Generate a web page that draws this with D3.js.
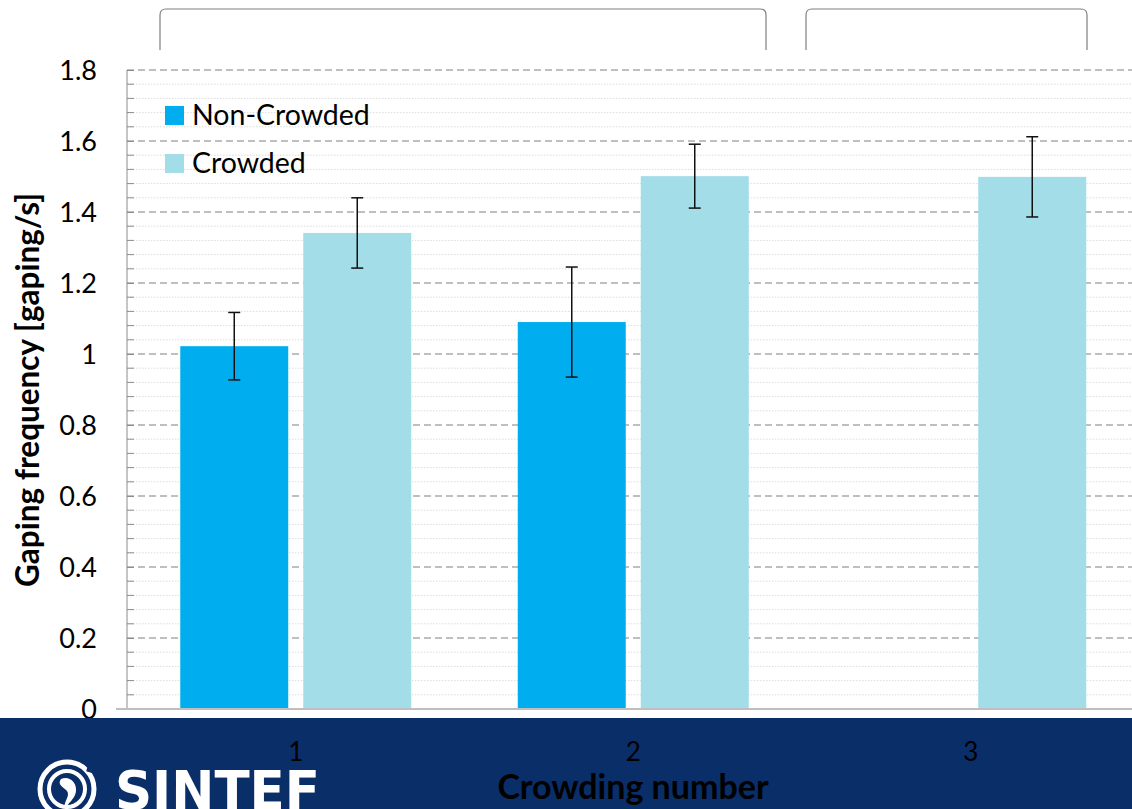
<!DOCTYPE html>
<html><head><meta charset="utf-8">
<script src="https://cdn.jsdelivr.net/npm/d3@7"></script>
<style>
html,body{margin:0;padding:0;background:#fff;}
svg{display:block;font-family:Lato,"Open Sans",sans-serif;}
</style></head>
<body>
<svg id="chart" width="1132" height="809"></svg>
<script>
// ---- data ----
const categories = ["1", "2", "3"];
const seriesNames = ["Non-Crowded", "Crowded"];
const nonCrowded = [1.022, 1.09, null];
const nonCrowdedErr = [0.095, 0.155, null];
const crowded = [1.341, 1.501, 1.499];
const crowdedErr = [0.099, 0.09, 0.113];
const yTicks = [0, 0.2, 0.4, 0.6, 0.8, 1, 1.2, 1.4, 1.6, 1.8];
const yTitle = "Gaping frequency [gaping/s]";
const xTitle = "Crowding number";
const colors = ["#00aeef", "#a2dde8"];

const svg = d3.select("#chart");
const W = 1132, H = 809;

const y = d3.scaleLinear().domain([0, 1.8]).range([709, 70]);
const x0 = d3.scaleBand().domain(categories).range([127, 1139.5]).padding(0);
const x1 = d3.scaleBand().domain(seriesNames).range([0, x0.bandwidth()])
  .paddingInner(0.122).paddingOuter(0.433);

// minor grid
const minor = d3.range(0, 1.8001, 0.04).filter(v => Math.abs(v / 0.2 - Math.round(v / 0.2)) > 1e-6);
svg.append("g").selectAll("line").data(minor).join("line")
  .attr("x1", 127).attr("x2", W).attr("y1", d => y(d)).attr("y2", d => y(d))
  .attr("stroke", "#dcdcdc").attr("stroke-width", 1).attr("stroke-dasharray", "1.5,1.5");
// minor ticks
svg.append("g").selectAll("line").data(minor).join("line")
  .attr("x1", 127).attr("x2", 134).attr("y1", d => y(d)).attr("y2", d => y(d))
  .attr("stroke", "#8c8c8c").attr("stroke-width", 1);
// major grid
svg.append("g").selectAll("line").data(yTicks.filter(d => d > 0)).join("line")
  .attr("x1", 127).attr("x2", W).attr("y1", d => y(d)).attr("y2", d => y(d))
  .attr("stroke", "#bfbfbf").attr("stroke-width", 2).attr("stroke-dasharray", "7,4");

// y axis via d3
const yAxis = d3.axisLeft(y).tickValues(yTicks).tickSize(11).tickPadding(19)
  .tickFormat(d => d3.format("~g")(d));
const ya = svg.append("g").attr("transform", "translate(127,0)").call(yAxis);
ya.select(".domain").attr("stroke", "#8c8c8c").attr("d", `M0,${y(1.8)}V${y(0)}`);
ya.selectAll(".tick line").attr("stroke", "#8c8c8c").attr("x2", 7);
ya.selectAll(".tick text").attr("font-size", 27).attr("fill", "#000")
  .attr("font-family", "Lato, sans-serif").attr("dy", "0.34em");

// bars
const rows = categories.map((c, i) => ({
  cat: c,
  vals: [
    {s: seriesNames[0], v: nonCrowded[i], e: nonCrowdedErr[i]},
    {s: seriesNames[1], v: crowded[i], e: crowdedErr[i]}
  ]
}));
const g = svg.append("g").selectAll("g").data(rows).join("g")
  .attr("transform", d => `translate(${x0(d.cat)},0)`);
g.selectAll("rect").data(d => d.vals.filter(v => v.v != null)).join("rect")
  .attr("x", d => x1(d.s)).attr("width", x1.bandwidth())
  .attr("y", d => y(d.v)).attr("height", d => y(0) - y(d.v))
  .attr("fill", d => colors[seriesNames.indexOf(d.s)]);

// x axis line
svg.append("line").attr("x1", 116).attr("x2", W).attr("y1", y(0)).attr("y2", y(0))
  .attr("stroke", "#bfbfbf").attr("stroke-width", 2);

// error bars
const eb = g.selectAll("g.err").data(d => d.vals.filter(v => v.v != null && v.e != null)).join("g").attr("class", "err");
eb.append("line")
  .attr("x1", d => x1(d.s) + x1.bandwidth() / 2).attr("x2", d => x1(d.s) + x1.bandwidth() / 2)
  .attr("y1", d => y(d.v + d.e)).attr("y2", d => y(d.v - d.e))
  .attr("stroke", "#111").attr("stroke-width", 1.5);
[1, -1].forEach(sg => {
  eb.append("line")
    .attr("x1", d => x1(d.s) + x1.bandwidth() / 2 - 6).attr("x2", d => x1(d.s) + x1.bandwidth() / 2 + 6)
    .attr("y1", d => y(d.v + sg * d.e)).attr("y2", d => y(d.v + sg * d.e))
    .attr("stroke", "#111").attr("stroke-width", 1.5);
});

// legend
const lg = svg.append("g").selectAll("g").data(seriesNames).join("g")
  .attr("transform", (d, i) => `translate(165,${106 + i * 48})`);
lg.append("rect").attr("width", 19).attr("height", 19).attr("fill", (d, i) => colors[i]);
lg.append("text").attr("x", 27).attr("y", 19).attr("font-size", 28.5).attr("fill", "#000").text(d => d);

// y title
svg.append("text").attr("transform", "translate(39,390) rotate(-90)")
  .attr("text-anchor", "middle").attr("font-size", 31.5).attr("font-weight", "bold").attr("fill", "#000")
  .text(yTitle);

// braces
function brace(xa, xb) {
  const t = 9, b = 50, r = 6;
  return `M${xa},${b}V${t + r}Q${xa},${t} ${xa + r},${t}H${xb - r}Q${xb},${t} ${xb},${t + r}V${b}`;
}
svg.append("path").attr("d", brace(160, 766)).attr("fill", "none").attr("stroke", "#7f7f7f").attr("stroke-width", 1.2);
svg.append("path").attr("d", brace(806, 1087)).attr("fill", "none").attr("stroke", "#7f7f7f").attr("stroke-width", 1.2);

// footer band
svg.append("rect").attr("x", 0).attr("y", 718).attr("width", W).attr("height", H - 718).attr("fill", "#0a2e68");

// x tick labels
svg.append("g").selectAll("text").data(categories).join("text")
  .attr("x", d => x0(d) + x0.bandwidth() / 2).attr("y", 761)
  .attr("text-anchor", "middle").attr("font-size", 26).attr("fill", "#000").text(d => d);
// x title
svg.append("text").attr("x", 633).attr("y", 799).attr("text-anchor", "middle")
  .attr("font-size", 34).attr("font-weight", "bold").attr("fill", "#000").text(xTitle);

// SINTEF logo
const logo = svg.append("g").attr("transform", "translate(67,789)");
logo.append("circle").attr("r", 27).attr("fill", "none").attr("stroke", "#fff").attr("stroke-width", 5);
logo.append("circle").attr("r", 18).attr("fill", "none").attr("stroke", "#fff").attr("stroke-width", 4);
logo.append("path").attr("d", "M-6,-10 C4,-14 12,-4 8,6 C5,13 -2,16 -1,22 C-6,14 4,8 0,2 C-4,-2 -10,-4 -6,-10Z").attr("fill", "#fff");
logo.append("rect").attr("x", 14).attr("y", -32).attr("width", 6).attr("height", 10).attr("fill", "#0a2e68").attr("transform", "rotate(15)");
svg.append("text").attr("x", 115).attr("y", 809).attr("font-family", "'DejaVu Sans', sans-serif")
  .attr("font-weight", "bold").attr("font-size", 53).attr("fill", "#fff")
  .attr("textLength", 205).attr("lengthAdjust", "spacingAndGlyphs").text("SINTEF");
</script>
</body></html>
